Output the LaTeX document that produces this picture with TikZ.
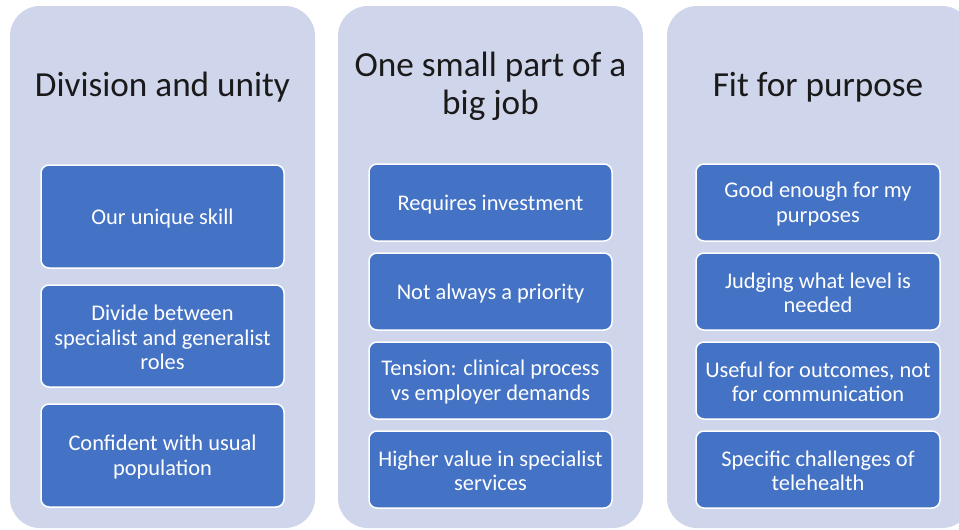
\documentclass[tikz,border=0pt]{standalone}
\usepackage{fontspec}
\setmainfont{Carlito}
\definecolor{panel}{HTML}{CFD5EA}
\definecolor{boxblue}{HTML}{4472C4}
\definecolor{titletxt}{HTML}{1A1A1A}
\begin{document}
\begin{tikzpicture}[x=1pt,y=-1pt,
  panelbox/.style={fill=panel, draw=none, rounded corners=30pt},
  itembox/.style={fill=boxblue, draw=white, line width=1.5pt, rounded corners=8pt},
  itemtxt/.style={text=white, font=\fontsize{22.4}{24.2}\selectfont, align=center},
  titletext/.style={text=titletxt, font=\fontsize{35.2}{38.5}\selectfont, align=center}]
\useasboundingbox (0,0) rectangle (959,530);
\begin{scope}
\clip (0,0) rectangle (959,530);
\fill[panelbox] (10,6) rectangle (315,528);
\fill[panelbox] (338,6) rectangle (643,528);
\fill[panelbox] (667,6) rectangle (972,528);
\end{scope}
% titles
\node[titletext] (t1) at (162.5,87.5) {Division and unity};
\node[titletext] (t2) at (490.5,86.5) {One small part of a\\big job};
\node[titletext] (t3) at (818,87.5) {Fit for purpose};
% column 1
\draw[itembox] (41,165) rectangle (284,268);
\node[itemtxt] (a1) at (162.5,218.5) {Our unique skill};
\draw[itembox] (41,285) rectangle (284,387);
\node[itemtxt] (a2) at (162.5,337.5) {Divide between\\specialist and generalist\\roles};
\draw[itembox] (41,404) rectangle (284,507);
\node[itemtxt] (a3) at (162.5,457) {Confident with usual\\population};
% column 2
\draw[itembox] (369,164) rectangle (612,241);
\node[itemtxt] (b1) at (490.5,204.5) {Requires investment};
\draw[itembox] (369,253) rectangle (612,330);
\node[itemtxt] (b2) at (490.5,293.5) {Not always a priority};
\draw[itembox] (369,342) rectangle (612,419);
\node[itemtxt] (b3) at (490.5,382) {Tension: clinical process\\vs employer demands};
\draw[itembox] (369,431) rectangle (612,508);
\node[itemtxt] (b4) at (490.5,471) {Higher value in specialist\\services};
% column 3
\draw[itembox] (696,164) rectangle (940,241);
\node[itemtxt] (c1) at (818,204) {Good enough for my\\purposes};
\draw[itembox] (696,253) rectangle (940,330);
\node[itemtxt] (c2) at (818,293) {Judging what level is\\needed};
\draw[itembox] (696,342) rectangle (940,419);
\node[itemtxt] (c3) at (818,382) {Useful for outcomes, not\\for communication};
\draw[itembox] (696,431) rectangle (940,508);
\node[itemtxt] (c4) at (818,471) {Specific challenges of\\telehealth};
\end{tikzpicture}
\end{document}
